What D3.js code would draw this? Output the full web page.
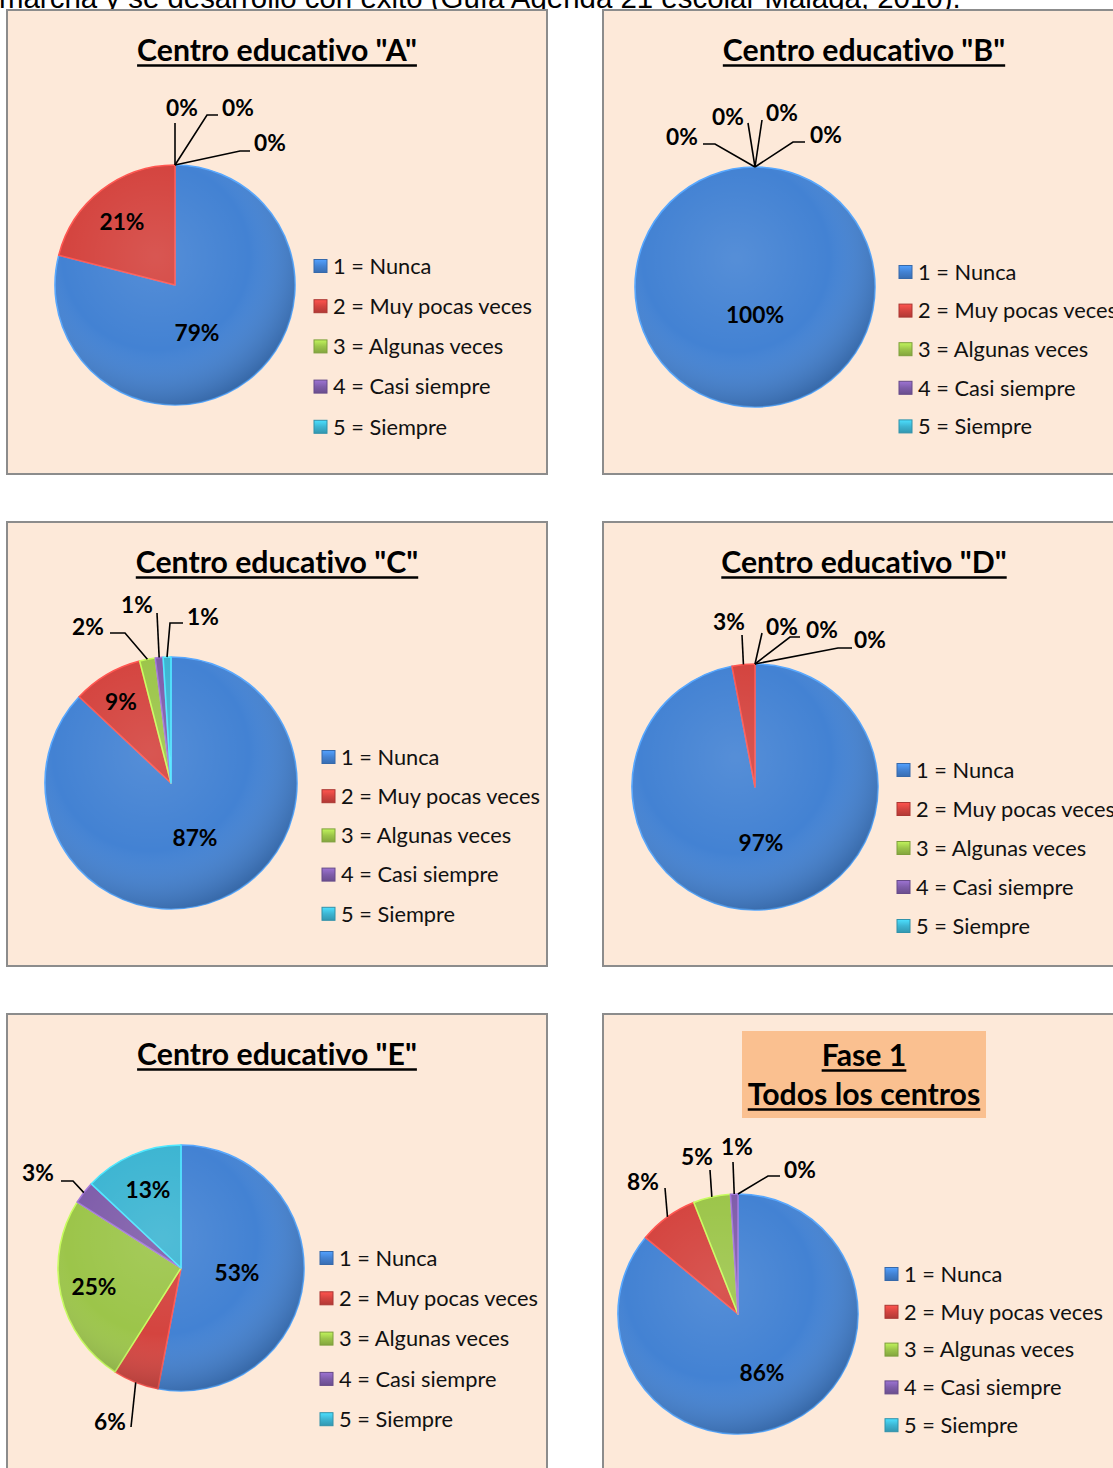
<!DOCTYPE html>
<html>
<head>
<meta charset="utf-8">
<script src="https://cdn.jsdelivr.net/npm/d3@7"></script>
<style>
  body { margin: 0; background: #fff; overflow: hidden; }
  text { font-variant-ligatures: none; }
</style>
</head>
<body>
<svg id="chart" width="1113" height="1468"></svg>
<script>
// --- data ---
const categories = ["1 = Nunca", "2 = Muy pocas veces", "3 = Algunas veces", "4 = Casi siempre", "5 = Siempre"];
const sliceColors = ["#4382D3", "#D4443F", "#9CC54A", "#7F5DAA", "#3DB5D2"];

const centroA = [79, 21, 0, 0, 0];
const centroB = [100, 0, 0, 0, 0];
const centroC = [87, 9, 2, 1, 1];
const centroD = [97, 3, 0, 0, 0];
const centroE = [53, 6, 25, 3, 13];
const fase1 = [86, 8, 5, 1, 0];

const panelTitles = [
  ['Centro educativo "A"'], ['Centro educativo "B"'],
  ['Centro educativo "C"'], ['Centro educativo "D"'],
  ['Centro educativo "E"'], ["Fase 1", "Todos los centros"]
];
const introText = "marcha y se desarrolló con éxito (Guía Agenda 21 escolar Málaga, 2010).";

// --- layout (positions only) ---
const layout = [
  { values: centroA, x: 7, y: 10, w: 540, h: 464, cx: 175, cy: 285, r: 120,
    lx: 314, ly: 266, ls: 40.2,
    inside: { 0: [22, 48], 1: [-53, -63] },
    outside: { 2: { pts: [[0, -162]], t: [7, -177] },
               3: { pts: [[32, -170], [43, -170]], t: [63, -177] },
               4: { pts: [[65, -134], [75, -134]], t: [95, -142] } } },
  { values: centroB, x: 603, y: 10, w: 522, h: 464, cx: 755, cy: 287, r: 120,
    lx: 899, ly: 272, ls: 38.6,
    inside: { 0: [0, 28] },
    outside: { 1: { pts: [[-40, -143], [-52, -143]], t: [-73, -150] },
               2: { pts: [[-7, -164]], t: [-27, -170] },
               3: { pts: [[7, -167]], t: [27, -174] },
               4: { pts: [[38, -145], [50, -145]], t: [71, -152] } } },
  { values: centroC, x: 7, y: 522, w: 540, h: 444, cx: 171, cy: 783, r: 126,
    lx: 322, ly: 757, ls: 39.2,
    inside: { 0: [24, 55], 1: [-50, -81] },
    outside: { 2: { pts: [[-46, -150], [-61, -150]], t: [-83, -156] },
               3: { pts: [[-14, -170]], t: [-34, -178] },
               4: { pts: [[-1, -160], [12, -160]], t: [32, -166] } } },
  { values: centroD, x: 603, y: 522, w: 522, h: 444, cx: 755, cy: 787, r: 123,
    lx: 897, ly: 770, ls: 39,
    inside: { 0: [6, 56] },
    outside: { 1: { pts: [[-13, -152]], t: [-26, -165] },
               2: { pts: [[7, -154]], t: [27, -160] },
               3: { pts: [[35, -150], [45, -150]], t: [67, -157] },
               4: { pts: [[83, -139], [97, -139]], t: [115, -147] } } },
  { values: centroE, x: 7, y: 1014, w: 540, h: 480, cx: 181, cy: 1268, r: 123,
    lx: 320, ly: 1258, ls: 40.3,
    inside: { 0: [56, 5], 2: [-87, 19], 4: [-33, -78] },
    outside: { 1: { pts: [[-50, 159]], t: [-71, 154] },
               3: { pts: [[-108, -87], [-120, -87]], t: [-143, -95] } } },
  { values: fase1, x: 603, y: 1014, w: 522, h: 480, cx: 738, cy: 1314, r: 120,
    lx: 885, ly: 1274, ls: 37.8, titleBox: [742, 1031, 244, 87],
    inside: { 0: [24, 59] },
    outside: { 1: { pts: [[-73, -126]], t: [-95, -132] },
               2: { pts: [[-28, -144]], t: [-41, -157] },
               3: { pts: [[-5, -152]], t: [-1, -167] },
               4: { pts: [[30, -138], [42, -138]], t: [62, -144] } } }
];

const svg = d3.select("#chart");
const font = "Lato, 'Open Sans', sans-serif";

// measure text so sizes match the reference widths
function fitSize(str, weight, family, target) {
  const t = svg.append("text").attr("font-family", family).attr("font-weight", weight)
    .attr("font-size", 100).text(str);
  const len = t.node().getComputedTextLength();
  t.remove();
  return 100 * target / len;
}
const titleSize = fitSize('Centro educativo "A"', "bold", font, 280);
const legendSize = fitSize("2 = Muy pocas veces", "normal", font, 199);
const labelSize = fitSize("79%", "bold", font, 45);
const introSize = fitSize(introText, "normal", "'Liberation Sans', Arial, sans-serif", 962);

// shading gradients
const defs = svg.append("defs");
const shade = defs.append("radialGradient").attr("id", "shade")
  .attr("cx", "0.42").attr("cy", "0.38").attr("r", "0.65");
shade.append("stop").attr("offset", "0%").attr("stop-color", "#fff").attr("stop-opacity", 0.10);
shade.append("stop").attr("offset", "60%").attr("stop-color", "#fff").attr("stop-opacity", 0);
shade.append("stop").attr("offset", "100%").attr("stop-color", "#000").attr("stop-opacity", 0.22);

sliceColors.forEach((c, k) => {
  const lg = defs.append("linearGradient").attr("id", "key" + k)
    .attr("x1", 0).attr("y1", 0).attr("x2", 0).attr("y2", 1);
  lg.append("stop").attr("offset", "0%").attr("stop-color", d3.color(c).brighter(0.6));
  lg.append("stop").attr("offset", "50%").attr("stop-color", c);
  lg.append("stop").attr("offset", "100%").attr("stop-color", d3.color(c).darker(0.5));
});

// intro line cut at the top
svg.append("text")
  .attr("x", -1).attr("y", 8)
  .attr("font-family", "'Liberation Sans', Arial, sans-serif")
  .attr("font-size", introSize)
  .attr("fill", "#000")
  .text(introText);

const pie = d3.pie().sort(null).value(d => d);

layout.forEach((p, i) => {
  const g = svg.append("g");

  g.append("rect")
    .attr("x", p.x).attr("y", p.y).attr("width", p.w).attr("height", p.h)
    .attr("fill", "#FDE9D9").attr("stroke", "#8C8C8C").attr("stroke-width", 2);

  // title
  const lines = panelTitles[i];
  const tcx = p.x + p.w / 2;
  if (p.titleBox) {
    g.append("rect")
      .attr("x", p.titleBox[0]).attr("y", p.titleBox[1])
      .attr("width", p.titleBox[2]).attr("height", p.titleBox[3])
      .attr("fill", "#FAC090");
  }
  lines.forEach((line, k) => {
    const by = p.y + 51 + (lines.length > 1 ? 1 + k * 39 : 0);
    const t = g.append("text")
      .attr("x", tcx).attr("y", by)
      .attr("text-anchor", "middle")
      .attr("font-family", font).attr("font-weight", "bold")
      .attr("font-size", titleSize)
      .text(line);
    const tw = t.node().getComputedTextLength();
    g.append("line")
      .attr("x1", tcx - tw / 2).attr("x2", tcx + tw / 2)
      .attr("y1", by + 4.5).attr("y2", by + 4.5)
      .attr("stroke", "#000").attr("stroke-width", 2.4);
  });

  // pie
  const arcs = pie(p.values);
  const arc = d3.arc().innerRadius(0).outerRadius(p.r);
  const pg = g.append("g").attr("transform", `translate(${p.cx},${p.cy})`);

  pg.selectAll("path.slice")
    .data(arcs.filter(d => d.data > 0))
    .join("path")
    .attr("class", "slice")
    .attr("d", arc)
    .attr("fill", d => sliceColors[d.index])
    .attr("stroke", d => d3.color(sliceColors[d.index]).brighter(0.7))
    .attr("stroke-width", 1.6)
    .attr("stroke-linejoin", "round");

  pg.append("circle").attr("r", p.r).attr("fill", "url(#shade)");

  // leader lines + outside labels
  Object.entries(p.outside).forEach(([k, o]) => {
    const a = arcs[+k];
    const mid = (a.startAngle + a.endAngle) / 2;
    const start = [p.r * Math.sin(mid), -p.r * Math.cos(mid)];
    pg.append("path")
      .attr("d", d3.line()([start, ...o.pts]))
      .attr("fill", "none").attr("stroke", "#000").attr("stroke-width", 1.6);
    pg.append("text")
      .attr("x", o.t[0]).attr("y", o.t[1]).attr("dy", "0.35em")
      .attr("text-anchor", "middle")
      .attr("font-family", font).attr("font-weight", "bold")
      .attr("font-size", labelSize)
      .text(a.data + "%");
  });

  Object.entries(p.inside).forEach(([k, pos]) => {
    pg.append("text")
      .attr("x", pos[0]).attr("y", pos[1]).attr("dy", "0.35em")
      .attr("text-anchor", "middle")
      .attr("font-family", font).attr("font-weight", "bold")
      .attr("font-size", labelSize)
      .text(arcs[+k].data + "%");
  });

  // legend
  const lg = g.append("g");
  const items = lg.selectAll("g").data(categories).join("g")
    .attr("transform", (d, k) => `translate(${p.lx},${p.ly + k * p.ls})`);
  items.append("rect")
    .attr("x", 0).attr("y", -6.5).attr("width", 13).attr("height", 13)
    .attr("fill", (d, k) => `url(#key${k})`)
    .attr("stroke", (d, k) => d3.color(sliceColors[k]).darker(0.6))
    .attr("stroke-width", 1);
  items.append("text")
    .attr("x", 19).attr("dy", "0.36em")
    .attr("font-family", font).attr("font-size", legendSize)
    .attr("fill", "#111")
    .text(d => d);
});
</script>
</body>
</html>
